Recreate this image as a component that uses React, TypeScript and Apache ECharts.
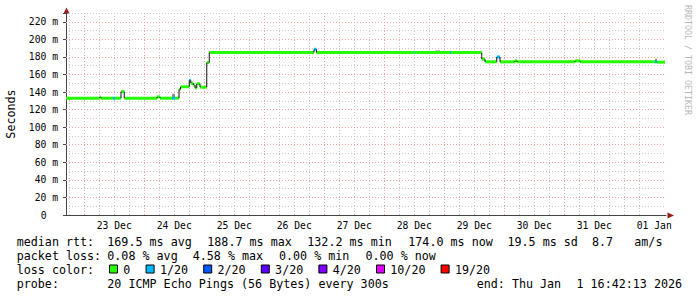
import React, { useEffect, useRef } from 'react';
import * as echarts from 'echarts';

// x values: hours since 2025-12-22 00:00
const axisStartHour = 16.7; // 22 Dec 16:42
const axisEndHour = 256.7; // 01 Jan 16:42
const dataEndHour = 256.3;

// median RTT steps (ms) with packet loss (of 20)
const segStartHours = [
  16.7, 30.1, 30.7, 35.5, 36.3, 38.7, 40.0, 53.1, 54.3, 59.1, 60.3, 61.9, 62.5,
  66.0, 66.6, 67.6, 68.3, 69.0, 70.3, 73.0, 74.0, 115.9, 116.9, 156.4, 156.8,
  170.3, 170.7, 183.0, 184.3, 189.0, 190.3, 196.3, 197.1, 220.3, 222.3, 252.3, 253.1,
];
const segMedianMs = [
  133.0, 134.0, 133.0, 133.0, 133.0, 140.5, 133.0, 134.5, 133.0, 133.0, 133.0, 143.0, 146.0,
  153.5, 150.0, 148.0, 144.5, 149.5, 145.5, 173.5, 185.0, 188.7, 185.0, 185.0, 185.0,
  185.0, 185.0, 177.5, 174.4, 180.0, 174.4, 175.5, 174.4, 175.5, 174.4, 174.4, 174.0,
];
const segLoss = [
  0, 0, 0, 1, 0, 0, 0, 0, 0, 1, 0, 0, 0,
  1, 0, 0, 0, 0, 0, 0, 0, 1, 0, 1, 0,
  1, 0, 0, 0, 1, 0, 0, 0, 0, 0, 1, 0,
];

// smoke (spread of individual pings)
const smokeStartHours = [59.1, 164.3, 252.3];
const smokeEndHours = [60.3, 166.3, 253.1];
const smokeLowMs = [133.0, 185.0, 174.4];
const smokeHighMs = [138.0, 187.3, 178.0];

// x axis labels (centred at noon) and grids
const dayLabels = ['23 Dec', '24 Dec', '25 Dec', '26 Dec', '27 Dec', '28 Dec', '29 Dec', '30 Dec', '31 Dec', '01 Jan'];
const dayLabelHours = [36, 60, 84, 108, 132, 156, 180, 204, 228, 252];
const midnightHours = [24, 48, 72, 96, 120, 144, 168, 192, 216, 240];
const sixHourGridHours: number[] = [];
for (let h = 18; h <= 252; h += 6) sixHourGridHours.push(h);

// legend
const lossLevels = [0, 1, 2, 3, 4, 10, 19];
const lossLabels = ['0', '1/20', '2/20', '3/20', '4/20', '10/20', '19/20'];
const lossColors = ['#26ff00', '#00b8ff', '#0059ff', '#5e00ff', '#7e00ff', '#dd00ff', '#ff0000'];

const rttStats = ['169.5 ms avg', '188.7 ms max', '132.2 ms min', '174.0 ms now', '19.5 ms sd', '8.7', 'am/s'];
const lossStats = ['0.08 % avg', '4.58 % max', '0.00 % min', '0.00 % now'];
const probeText = '20 ICMP Echo Pings (56 Bytes) every 300s';
const endTextA = 'end: Thu Jan';
const endTextB = '1 16:42:13 2026';

const MONO = '"DejaVu Sans Mono", monospace';
const LEG_FS = 11.7;
const AX_FS = 9.7;

function lossColor(n: number) {
  let c = lossColors[0];
  for (let i = 0; i < lossLevels.length; i++) if (n >= lossLevels[i]) c = lossColors[i];
  return c;
}

function txt(x: number, y: number, text: string, extra: any = {}) {
  return {
    type: 'text',
    x,
    y,
    silent: true,
    style: {
      text,
      font: `${LEG_FS}px ${MONO}`,
      fill: '#000',
      align: 'left',
      verticalAlign: 'middle',
      ...extra,
    },
  };
}

export default function App() {
  const ref = useRef<HTMLDivElement>(null);
  useEffect(() => {
    const chart = echarts.init(ref.current!, null, { renderer: 'svg' });

    const n = segStartHours.length;
    const medianData = segStartHours.map((s, i) => [
      s,
      i + 1 < n ? segStartHours[i + 1] : dataEndHour,
      segMedianMs[i],
      segLoss[i],
      i > 0 ? segMedianMs[i - 1] : segMedianMs[i],
    ]);
    const smokeData = smokeStartHours.map((s, i) => [s, smokeEndHours[i], smokeLowMs[i], smokeHighMs[i]]);

    const rowY = [241.5, 255.5, 269.5, 283.5];
    const rttX = [107.3, 207.3, 307.3, 408.3, 507.5, 592, 634.3];
    const lossX = [107.3, 192.7, 279, 365.5];

    const graphics: any[] = [];
    graphics.push(txt(16.7, rowY[0], 'median rtt:'));
    rttStats.forEach((t, i) => graphics.push(txt(rttX[i], rowY[0], t)));
    graphics.push(txt(16.7, rowY[1], 'packet loss:'));
    lossStats.forEach((t, i) => graphics.push(txt(lossX[i], rowY[1], t)));
    graphics.push(txt(16.7, rowY[2], 'loss color:'));
    let bx = 109;
    lossLabels.forEach((lab, i) => {
      graphics.push({
        type: 'rect',
        silent: true,
        shape: { x: bx + 0.5, y: rowY[2] - 4.5, width: 8, height: 8 },
        style: { fill: lossColors[i], stroke: '#000', lineWidth: 1 },
      });
      graphics.push(txt(bx + 14.3, rowY[2], lab));
      bx += 29.6 + lab.length * 7;
    });
    graphics.push(txt(16.7, rowY[3], 'probe:'));
    graphics.push(txt(107.3, rowY[3], probeText));
    graphics.push(txt(476.7, rowY[3], endTextA));
    graphics.push(txt(576.5, rowY[3], endTextB));
    // axis titles
    graphics.push({
      type: 'text', x: 10.5, y: 114, rotation: Math.PI / 2, silent: true,
      style: { text: 'Seconds', font: `${LEG_FS}px ${MONO}`, fill: '#000', align: 'center', verticalAlign: 'middle' },
    });
    graphics.push({
      type: 'text', x: 687.5, y: 60, rotation: -Math.PI / 2, silent: true,
      style: { text: 'RRDTOOL / TOBI OETIKER', font: `8.3px ${MONO}`, fill: '#b8b8b8', align: 'center', verticalAlign: 'middle' },
    });
    // axis arrows
    graphics.push({
      type: 'polygon', silent: true,
      shape: { points: [[63.5, 13.5], [69.5, 13.5], [66.5, 7.5]] },
      style: { fill: '#9b1c1c' },
    });
    graphics.push({
      type: 'polygon', silent: true,
      shape: { points: [[667.5, 212.5], [667.5, 218.5], [674, 215.5]] },
      style: { fill: '#9b1c1c' },
    });

    const option: any = {
      animation: false,
      backgroundColor: '#ffffff',
      grid: { left: 66, right: 31, top: 13, bottom: 82, containLabel: false },
      xAxis: [
        {
          type: 'value',
          min: axisStartHour,
          max: axisEndHour,
          axisLine: { show: true, lineStyle: { color: '#444', width: 1 } },
          axisTick: { show: false, customValues: sixHourGridHours },
          axisLabel: {
            customValues: dayLabelHours,
            formatter: (v: number) => {
              const i = dayLabelHours.indexOf(Math.round(v));
              return i >= 0 ? dayLabels[i] : '';
            },
            fontFamily: MONO,
            fontSize: AX_FS,
            color: '#000',
            margin: 5,
          },
          splitLine: { show: true, showMinLine: true, showMaxLine: false, lineStyle: { color: '#c8c8c8', type: [1, 2], width: 1 } },
        },
        {
          type: 'value',
          min: axisStartHour,
          max: axisEndHour,
          axisLine: { show: false },
          axisTick: { show: false, customValues: midnightHours },
          axisLabel: { show: false },
          splitLine: { show: true, showMinLine: true, showMaxLine: false, lineStyle: { color: '#eba3a3', type: [1, 2], width: 1 } },
          z: 1,
        },
      ],
      yAxis: [
        {
          type: 'value',
          min: 0,
          max: 230,
          interval: 10,
          axisLine: { show: true, lineStyle: { color: '#444', width: 1 } },
          axisTick: { show: false },
          axisLabel: { show: false },
          splitLine: { show: true, showMinLine: false, showMaxLine: true, lineStyle: { color: '#c8c8c8', type: [1, 2], width: 1 } },
        },
        {
          type: 'value',
          min: 0,
          max: 230,
          interval: 20,
          position: 'left',
          axisLine: { show: false },
          axisTick: { show: true, length: 3, lineStyle: { color: '#444' } },
          axisLabel: {
            formatter: (v: number) => (v === 0 ? '{z|0}' : v <= 220 ? `${v} m` : ''),
            fontFamily: MONO,
            fontSize: AX_FS,
            color: '#000',
            margin: 8,
            rich: { z: { fontFamily: MONO, fontSize: AX_FS, color: '#000', padding: [0, 11.5, 0, 0] } },
          },
          splitLine: { show: true, showMinLine: false, showMaxLine: false, lineStyle: { color: '#eba3a3', type: [1, 2], width: 1 } },
          z: 1,
        },
      ],
      series: [
        {
          type: 'custom',
          name: 'smoke',
          xAxisIndex: 0,
          yAxisIndex: 0,
          clip: true,
          z: 3,
          data: smokeData,
          encode: { x: [0, 1], y: [2, 3] },
          renderItem: (params: any, api: any) => {
            const a = api.coord([api.value(0), api.value(3)]);
            const b = api.coord([api.value(1), api.value(2)]);
            return {
              type: 'rect',
              shape: { x: a[0], y: a[1], width: Math.max(b[0] - a[0], 1), height: b[1] - a[1] },
              style: { fill: '#8e8e8e' },
            };
          },
        },
        {
          type: 'custom',
          name: 'median',
          xAxisIndex: 0,
          yAxisIndex: 0,
          clip: true,
          z: 4,
          data: medianData,
          encode: { x: [0, 1], y: [2, 4] },
          renderItem: (params: any, api: any) => {
            const a = api.coord([api.value(0), api.value(2)]);
            const b = api.coord([api.value(1), api.value(2)]);
            return {
              type: 'rect',
              shape: { x: a[0], y: a[1] - 1.5, width: Math.max(b[0] - a[0], 1.2), height: 3 },
              style: { fill: lossColor(api.value(3)) },
            };
          },
        },
        {
          type: 'custom',
          name: 'steps',
          xAxisIndex: 0,
          yAxisIndex: 0,
          clip: true,
          z: 5,
          data: medianData,
          encode: { x: [0, 1], y: [2, 4] },
          renderItem: (params: any, api: any) => {
            if (api.value(2) === api.value(4)) return null;
            const a = api.coord([api.value(0), api.value(4)]);
            const b = api.coord([api.value(0), api.value(2)]);
            return {
              type: 'line',
              shape: { x1: a[0], y1: a[1], x2: b[0], y2: b[1] },
              style: { stroke: '#111', lineWidth: 1 },
            };
          },
        },
      ],
      graphic: graphics,
    };
    chart.setOption(option);
    return () => chart.dispose();
  }, []);
  return <div ref={ref} style={{ position: 'absolute', left: 0, top: 0, width: 697, height: 297 }} />;
}
